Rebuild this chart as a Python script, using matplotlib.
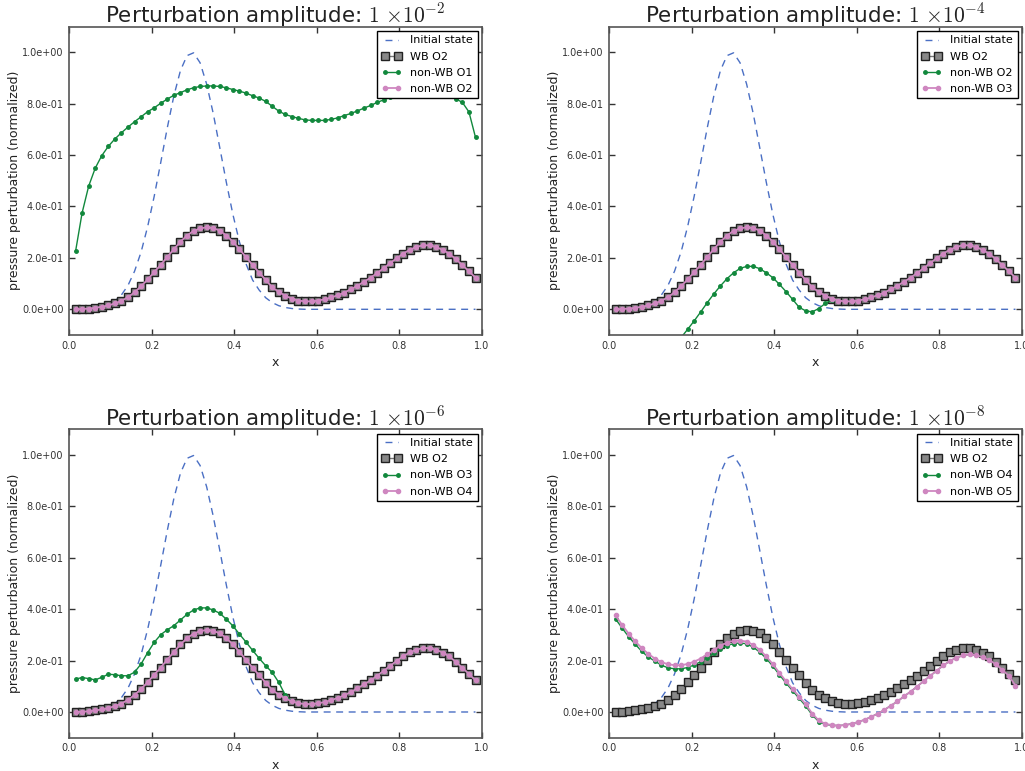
import numpy as np
import matplotlib
matplotlib.use("Agg")
import matplotlib.pyplot as plt

plt.rcParams['mathtext.fontset'] = 'cm'

# grid points (interior cells)
x = np.arange(1, 63) / 63.0

# initial gaussian pulse
initial_state = [0.0004, 0.0009, 0.002, 0.004, 0.009, 0.017, 0.032, 0.056, 0.093, 0.148,
                 0.223, 0.322, 0.440, 0.572, 0.707, 0.831, 0.929, 0.987, 0.998, 0.959,
                 0.876, 0.762, 0.629, 0.494, 0.369, 0.262, 0.177, 0.114, 0.075, 0.045,
                 0.026, 0.014, 0.007, 0.003, 0.001, 0.0, 0.0, 0.0, 0.0, 0.0,
                 0.0, 0.0, 0.0, 0.0, 0.0, 0.0, 0.0, 0.0, 0.0, 0.0,
                 0.0, 0.0, 0.0, 0.0, 0.0, 0.0, 0.0, 0.0, 0.0, 0.0,
                 0.0, 0.0]

# well-balanced 2nd order (same in every panel)
wb_o2 = [0.000, 0.001, 0.003, 0.006, 0.010, 0.015, 0.023, 0.033, 0.047, 0.066,
         0.090, 0.116, 0.145, 0.173, 0.204, 0.234, 0.263, 0.287, 0.305, 0.315,
         0.319, 0.316, 0.306, 0.287, 0.263, 0.234, 0.203, 0.172, 0.143, 0.114,
         0.086, 0.067, 0.053, 0.041, 0.034, 0.031, 0.031, 0.034, 0.039, 0.046,
         0.055, 0.065, 0.078, 0.092, 0.107, 0.123, 0.141, 0.160, 0.180, 0.199,
         0.217, 0.232, 0.243, 0.249, 0.249, 0.242, 0.231, 0.216, 0.195, 0.172,
         0.148, 0.123]

# amplitude 1e-2
nwb_o1 = [0.225, 0.375, 0.479, 0.549, 0.598, 0.634, 0.663, 0.687, 0.709, 0.730,
          0.749, 0.769, 0.784, 0.802, 0.818, 0.833, 0.843, 0.854, 0.862, 0.867,
          0.869, 0.869, 0.867, 0.862, 0.855, 0.849, 0.841, 0.831, 0.822, 0.809,
          0.790, 0.771, 0.758, 0.750, 0.743, 0.737, 0.735, 0.735, 0.735, 0.739,
          0.745, 0.754, 0.762, 0.772, 0.783, 0.793, 0.805, 0.815, 0.825, 0.834,
          0.842, 0.848, 0.851, 0.852, 0.850, 0.846, 0.839, 0.830, 0.819, 0.805,
          0.768, 0.669]
nwb_o2_a2 = wb_o2

# amplitude 1e-4
nwb_o2_a4 = [-0.30, -0.29, -0.27, -0.25, -0.23, -0.21, -0.19, -0.17, -0.15, -0.13,
             -0.110, -0.078, -0.045, -0.010, 0.026, 0.060, 0.091, 0.119, 0.142, 0.159,
             0.167, 0.167, 0.158, 0.142, 0.123, 0.097, 0.069, 0.039, 0.008, -0.006,
             -0.010, 0.003, 0.023, 0.036] + wb_o2[34:]
nwb_o3_a4 = wb_o2

# amplitude 1e-6
nwb_o3_a6 = [0.128, 0.134, 0.130, 0.125, 0.135, 0.147, 0.145, 0.141, 0.141, 0.155,
             0.187, 0.231, 0.271, 0.301, 0.320, 0.336, 0.358, 0.380, 0.397, 0.405,
             0.405, 0.397, 0.384, 0.361, 0.335, 0.303, 0.272, 0.240, 0.209, 0.180,
             0.154, 0.115, 0.065] + wb_o2[33:]
nwb_o4_a6 = wb_o2

# amplitude 1e-8
nwb_o5_a8 = [0.376, 0.339, 0.305, 0.275, 0.249, 0.226, 0.208, 0.194, 0.186, 0.182,
             0.182, 0.187, 0.196, 0.208, 0.224, 0.241, 0.258, 0.270, 0.277, 0.278,
             0.274, 0.261, 0.242, 0.216, 0.186, 0.152, 0.120, 0.089, 0.060, 0.030,
             -0.006, -0.033, -0.046, -0.051, -0.053, -0.051, -0.046, -0.039, -0.030, -0.019,
             -0.006, 0.008, 0.025, 0.041, 0.061, 0.079, 0.099, 0.120, 0.141, 0.161,
             0.181, 0.199, 0.211, 0.220, 0.224, 0.221, 0.213, 0.202, 0.186, 0.164,
             0.141, 0.103]
nwb_o4_a8 = [0.362, 0.327, 0.293, 0.264, 0.236, 0.214, 0.198, 0.182, 0.172, 0.168,
             0.168, 0.173, 0.183, 0.196, 0.211, 0.228, 0.245, 0.258, 0.266, 0.269,
             0.265, 0.252, 0.233, 0.208, 0.178, 0.145, 0.113, 0.083, 0.053, 0.024,
             -0.012, -0.037, -0.048, -0.052] + nwb_o5_a8[34:]

exponents = [2, 4, 6, 8]
green_labels = ['non-WB O1', 'non-WB O2', 'non-WB O3', 'non-WB O4']
pink_labels = ['non-WB O2', 'non-WB O3', 'non-WB O4', 'non-WB O5']
green_data = [nwb_o1, nwb_o2_a4, nwb_o3_a6, nwb_o4_a8]
pink_data = [nwb_o2_a2, nwb_o3_a4, nwb_o4_a6, nwb_o5_a8]

blue = '#4a6fc4'
green = '#11883c'
pink = '#cf87c0'

fig = plt.figure(figsize=(10.25, 7.71), dpi=100)
positions = [[0.0673, 0.5655, 0.403, 0.400],
             [0.5941, 0.5655, 0.403, 0.400],
             [0.0673, 0.0432, 0.403, 0.400],
             [0.5941, 0.0432, 0.403, 0.400]]

for i in range(4):
    ax = fig.add_axes(positions[i])
    ax.plot(x, initial_state, '--', color=blue, lw=1.0, dashes=(5, 4), label='Initial state')
    ax.plot(x, wb_o2, '-s', color='#777777', mfc='#888888', mec='#222222', mew=1.0,
            ms=5.5, lw=1.0, label='WB O2')
    ax.plot(x, green_data[i], '-o', color=green, mec=green, ms=2.5, lw=1.0,
            label=green_labels[i])
    ax.plot(x, pink_data[i], '-o', color=pink, mec=pink, ms=3, lw=1.3,
            label=pink_labels[i])

    ax.set_xlim(0, 1)
    ax.set_ylim(-0.1, 1.1)
    ax.set_xticks([0.0, 0.2, 0.4, 0.6, 0.8, 1.0])
    ax.set_yticks([0.0, 0.2, 0.4, 0.6, 0.8, 1.0])
    ax.yaxis.set_major_formatter(matplotlib.ticker.FormatStrFormatter('%.1e'))
    ax.xaxis.set_major_formatter(matplotlib.ticker.FormatStrFormatter('%.1f'))
    ax.tick_params(direction='in', top=True, right=True, length=4, width=1,
                   labelsize=7, colors='#333333', pad=4)
    for s in ax.spines.values():
        s.set_color('#555555')
        s.set_linewidth(1.2)
    ax.set_xlabel('x', fontsize=9, color='#222222')
    ax.set_ylabel('pressure perturbation (normalized)', fontsize=9, color='#222222',
                  labelpad=1)
    ax.set_title(r'Perturbation amplitude: $1\ {\times}10^{-%d}$' % exponents[i],
                 fontsize=15.5, color='#222222', pad=3)
    leg = ax.legend(loc='upper right', fontsize=8, numpoints=2, fancybox=False,
                    framealpha=1, edgecolor='black', borderaxespad=0.4,
                    handlelength=1.8, labelspacing=0.55)
    leg.get_frame().set_linewidth(1.0)

plt.savefig('out.png', dpi=100)
